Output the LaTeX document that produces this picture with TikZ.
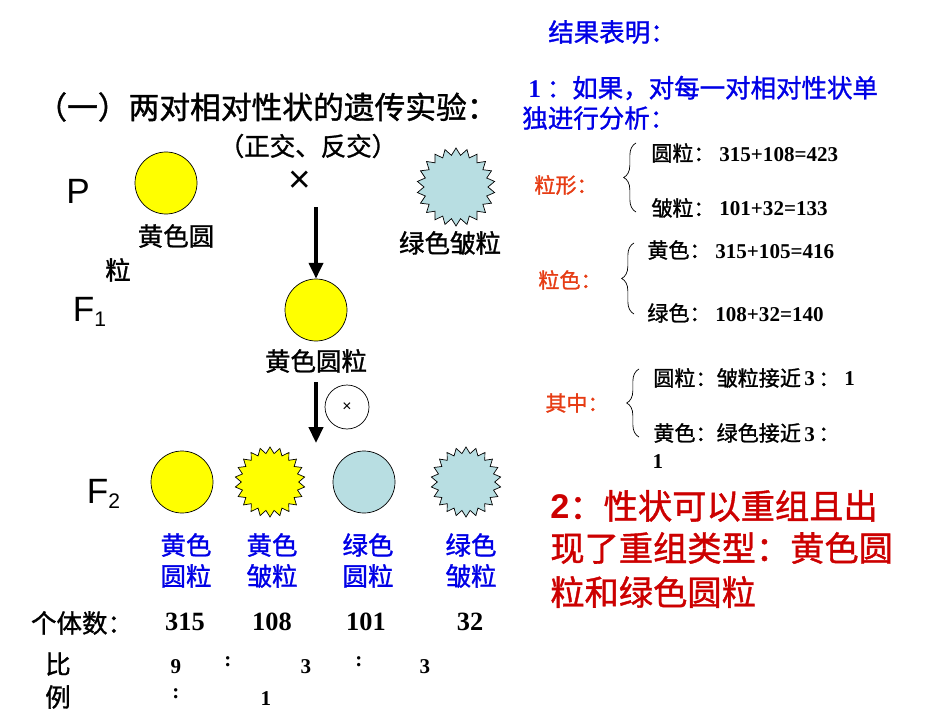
\documentclass[tikz,border=0pt]{standalone}
\usepackage{fontspec}
\setmainfont{Liberation Serif}
\setsansfont{Liberation Sans}
\newfontfamily\cjk[FakeBold=1.2]{Noto Sans CJK SC}
\usetikzlibrary{shapes.geometric,decorations.pathreplacing,arrows.meta}
\definecolor{yel}{RGB}{255,255,0}
\definecolor{grn}{RGB}{184,222,226}
\definecolor{blu}{RGB}{0,0,230}
\definecolor{ora}{RGB}{230,60,20}
\definecolor{dred}{RGB}{204,0,0}
\newcommand{\bn}[1]{{\rmfamily\bfseries #1}}
\tikzset{
 pea/.style={circle,draw=black,thin,minimum size=62*0.02cm,inner sep=0},
 wrin/.style={star,star points=22,star point ratio=1.22,draw=black,thin,minimum size=70*0.02cm,inner sep=0},
 t/.style={font=\cjk\fontsize{14.5}{16}\selectfont,inner sep=0},
 tl/.style={t,anchor=west},
 sm/.style={font=\cjk\fontsize{12}{14}\selectfont},
 num/.style={font=\bfseries\fontsize{12}{14}\selectfont,inner sep=0},
 big/.style={font=\sffamily\fontsize{20}{22}\selectfont,inner sep=0},
 brc/.style={decorate,decoration={brace,amplitude=7pt},thin},
 arr/.style={-{Triangle[length=9pt,width=8pt]},line width=2pt},
}
\begin{document}
\begin{tikzpicture}[x=0.02cm,y=-0.02cm]
\useasboundingbox (0,0) rectangle (950,713);
\node[tl,font=\cjk\fontsize{17.5}{19}\selectfont] (title) at (36,107) {（一）两对相对性状的遗传实验：};
\node[t] (zf) at (308,146) {（正交、反交）};
\node[big] (P) at (78,191) {P};
\node[pea,fill=yel] (p1) at (166,183) {};
\node[font=\sffamily\fontsize{22}{22}\selectfont,inner sep=0] (x1) at (300,182) {×};
\node[wrin,fill=grn,minimum size=78*0.02cm] (p2) at (456,187) {};
\node[t] (l1) at (176,236) {黄色圆};
\node[t] (l1b) at (118,270) {粒};
\node[t] (l2) at (450,243) {绿色皱粒};
\node[big] (F1) at (90,312) {F\textsubscript{\fontsize{12}{12}\selectfont 1}};
\node[pea,fill=yel] (f1) at (316,310) {};
\coordinate (a1s) at (316,207);
\draw[arr] (a1s) -- (f1.north);
\node[t] (l3) at (316,361) {黄色圆粒};
\coordinate (a2s) at (316,382);
\coordinate (a2e) at (316,443);
\draw[arr] (a2s) -- (a2e);
\node[circle,draw,minimum size=44*0.02cm,inner sep=0,font=\sffamily\small] (self) at (347,407) {×};
\node[big] (F2) at (104,494) {F\textsubscript{\fontsize{12}{12}\selectfont 2}};
\node[pea,fill=yel] (g1) at (182,482) {};
\node[wrin,fill=yel] (g2) at (270,482) {};
\node[pea,fill=grn] (g3) at (364,482) {};
\node[wrin,fill=grn] (g4) at (466,482) {};
\foreach \n/\x/\a/\b in {b1/186/黄色/圆粒, b2/272/黄色/皱粒, b3/368/绿色/圆粒, b4/471/绿色/皱粒}{
 \node[t,text=blu] (\n a) at (\x,545) {\a};
 \node[t,text=blu] (\n b) at (\x,576) {\b};
}
\node[t] (gt) at (82,623) {个体数：};
\node[num,font=\bfseries\fontsize{15}{16}\selectfont] (n1) at (185,622) {315};
\node[num,font=\bfseries\fontsize{15}{16}\selectfont] (n2) at (272,622) {108};
\node[num,font=\bfseries\fontsize{15}{16}\selectfont] (n3) at (366,622) {101};
\node[num,font=\bfseries\fontsize{15}{16}\selectfont] (n4) at (470,622) {32};
\node[t] (bi) at (58,664) {比};
\node[t] (li) at (58,697) {例};
\node[num] (r1) at (176,667) {9};
\node[num] (c1) at (228,662) {:};
\node[num] (r2) at (306,667) {3};
\node[num] (c2) at (359,662) {:};
\node[num] (r3) at (425,667) {3};
\node[num] (c3) at (176,694) {:};
\node[num] (r4) at (266,699) {1};
% right
\node[t,text=blu] (res) at (612,32) {结果表明：};
\node[tl,text=blu] (r1l) at (528,88) {\bn{1} ：如果，对每一对相对性状单};
\node[tl,text=blu] (r2l) at (522,118) {独进行分析：};
\node[t,sm,text=ora] (lx) at (566,185) {粒形：};
\draw[brc] (636,212) -- (636,143);
\node[tl,sm] (e1) at (651,153) {圆粒：\ \bn{315+108=423}};
\node[tl,sm] (e2) at (651,208) {皱粒：\ \bn{101+32=133}};
\node[t,sm,text=ora] (ls) at (570,280) {粒色：};
\draw[brc] (634,314) -- (634,243);
\node[tl,sm] (e3) at (647,250) {黄色：\ \bn{315+105=416}};
\node[tl,sm] (e4) at (647,313) {绿色：\ \bn{108+32=140}};
\node[t,sm,text=ora] (qz) at (577,403) {其中：};
\draw[brc] (639,437) -- (639,369);
\node[tl,sm] (e5) at (653,378) {圆粒：皱粒接近\,\bn{3}\,：\ \bn{1}};
\node[tl,sm] (e6) at (653,433) {黄色：绿色接近\,\bn{3}\,：};
\node[num] (e7) at (658,462) {1};
\node[tl,text=dred,font=\cjk\fontsize{19.5}{22}\selectfont] (m1) at (550,506) {\textsf{\bfseries 2}：性状可以重组且出};
\node[tl,text=dred,font=\cjk\fontsize{19.5}{22}\selectfont] (m2) at (550,548) {现了重组类型：黄色圆};
\node[tl,text=dred,font=\cjk\fontsize{19.5}{22}\selectfont] (m3) at (550,592) {粒和绿色圆粒};
\end{tikzpicture}
\end{document}
